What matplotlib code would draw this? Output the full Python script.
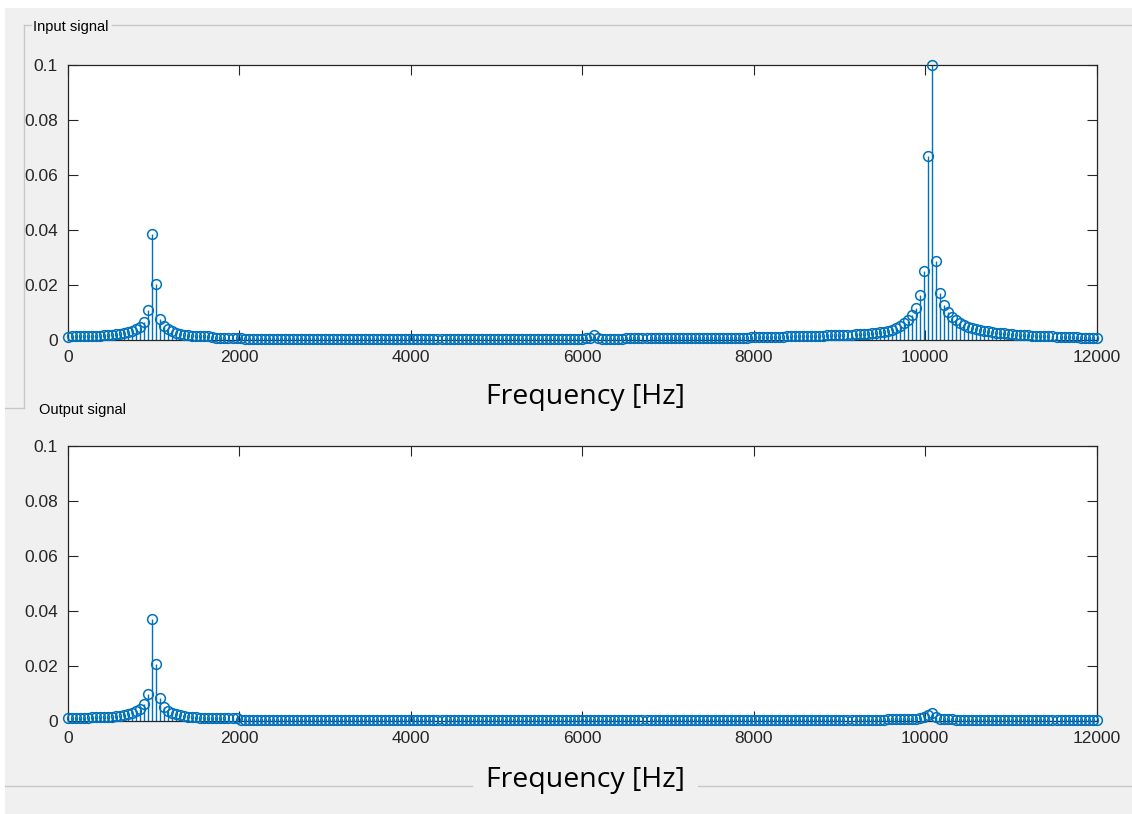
import matplotlib.pyplot as plt
import numpy as np
from matplotlib.lines import Line2D
from matplotlib.patches import Rectangle

# frequency bins (Fs = 24 kHz, N = 512 -> 257 bins from 0 to 12000 Hz)
freq_step = 46.875
n_bins = 257

# magnitudes, in units of 1e-3, 16 bins per row
input_milli = [
    1.2, 1.3, 1.3, 1.4, 1.4, 1.5, 1.5, 1.6, 1.6, 1.7, 1.8, 1.9, 2.1, 2.3, 2.6, 2.9,
    3.3, 3.9, 4.8, 6.5, 11.0, 38.5, 20.5, 7.8, 5.2, 4.0, 3.2, 2.7, 2.3, 2.0, 1.8, 1.6,
    1.5, 1.4, 1.3, 1.3, 1.2, 0.7, 0.7, 0.6, 0.6, 0.6, 0.6, 0.6, 0.5, 0.5, 0.5, 0.5,
    0.5, 0.5, 0.5, 0.5, 0.5, 0.5, 0.5, 0.5, 0.5, 0.5, 0.5, 0.5, 0.5, 0.5, 0.5, 0.5,
    0.5, 0.5, 0.5, 0.5, 0.5, 0.5, 0.5, 0.5, 0.5, 0.5, 0.5, 0.5, 0.5, 0.5, 0.5, 0.5,
    0.5, 0.5, 0.5, 0.5, 0.5, 0.5, 0.5, 0.5, 0.5, 0.5, 0.5, 0.5, 0.5, 0.5, 0.5, 0.5,
    0.5, 0.5, 0.5, 0.5, 0.5, 0.5, 0.5, 0.5, 0.5, 0.5, 0.5, 0.5, 0.5, 0.5, 0.5, 0.5,
    0.5, 0.5, 0.5, 0.5, 0.5, 0.5, 0.5, 0.5, 0.5, 0.5, 0.5, 0.5, 0.5, 0.5, 0.5, 0.5,
    0.5, 0.6, 0.9, 1.8, 0.6, 0.3, 0.3, 0.3, 0.3, 0.3, 0.4, 0.7, 0.7, 0.7, 0.7, 0.7,
    0.7, 0.7, 0.7, 0.7, 0.7, 0.7, 0.7, 0.8, 0.8, 0.8, 0.8, 0.8, 0.8, 0.8, 0.8, 0.8,
    0.8, 0.8, 0.8, 0.8, 0.9, 0.9, 0.9, 0.9, 0.9, 0.9, 1.0, 1.0, 1.0, 1.0, 1.1, 1.1,
    1.1, 1.2, 1.2, 1.3, 1.3, 1.3, 1.4, 1.4, 1.5, 1.5, 1.5, 1.6, 1.6, 1.7, 1.7, 1.8,
    1.8, 1.9, 1.9, 2.0, 2.1, 2.1, 2.2, 2.3, 2.4, 2.6, 2.8, 3.0, 3.3, 3.8, 4.5, 5.2,
    6.1, 7.3, 9.1, 11.8, 16.4, 25.2, 67.0, 100.0, 28.8, 17.2, 12.7, 10.3, 8.4, 7.2, 6.2, 5.5,
    4.9, 4.4, 4.0, 3.7, 3.4, 3.1, 2.9, 2.7, 2.5, 2.4, 2.2, 2.1, 2.0, 1.9, 1.8, 1.7,
    1.5, 1.5, 1.4, 1.4, 1.3, 1.3, 1.2, 1.2, 1.1, 1.1, 1.0, 1.0, 0.9, 0.9, 0.8, 0.8,
    0.7,
]

output_milli = [
    1.0, 1.0, 1.1, 1.1, 1.2, 1.2, 1.3, 1.3, 1.4, 1.4, 1.5, 1.6, 1.8, 2.0, 2.3, 2.6,
    3.0, 3.6, 4.5, 6.2, 9.8, 37.0, 20.7, 8.5, 5.0, 3.8, 3.0, 2.5, 2.1, 1.8, 1.6, 1.4,
    1.3, 1.2, 1.2, 1.1, 1.1, 1.0, 1.0, 1.0, 1.0, 1.0, 1.0, 0.5, 0.5, 0.5, 0.5, 0.5,
    0.5, 0.5, 0.5, 0.5, 0.5, 0.5, 0.5, 0.5, 0.5, 0.5, 0.5, 0.5, 0.5, 0.5, 0.5, 0.5,
    0.5, 0.5, 0.5, 0.5, 0.5, 0.5, 0.5, 0.5, 0.5, 0.5, 0.5, 0.5, 0.5, 0.5, 0.5, 0.5,
    0.5, 0.5, 0.5, 0.5, 0.5, 0.5, 0.5, 0.5, 0.5, 0.5, 0.5, 0.5, 0.5, 0.5, 0.5, 0.5,
    0.5, 0.5, 0.5, 0.5, 0.5, 0.5, 0.5, 0.5, 0.5, 0.5, 0.5, 0.5, 0.5, 0.5, 0.5, 0.5,
    0.5, 0.5, 0.5, 0.5, 0.5, 0.5, 0.5, 0.5, 0.5, 0.5, 0.5, 0.5, 0.5, 0.5, 0.5, 0.5,
    0.5, 0.5, 0.5, 0.5, 0.5, 0.5, 0.5, 0.5, 0.5, 0.5, 0.5, 0.5, 0.5, 0.5, 0.5, 0.5,
    0.5, 0.5, 0.5, 0.5, 0.5, 0.5, 0.5, 0.5, 0.5, 0.5, 0.5, 0.5, 0.5, 0.5, 0.5, 0.5,
    0.5, 0.5, 0.5, 0.5, 0.5, 0.5, 0.5, 0.5, 0.5, 0.5, 0.5, 0.5, 0.5, 0.5, 0.5, 0.5,
    0.5, 0.5, 0.5, 0.5, 0.5, 0.5, 0.5, 0.5, 0.5, 0.5, 0.5, 0.5, 0.5, 0.5, 0.5, 0.5,
    0.5, 0.5, 0.5, 0.5, 0.5, 0.5, 0.5, 0.5, 0.5, 0.5, 0.5, 0.5, 0.6, 0.6, 0.6, 0.6,
    0.6, 0.6, 0.7, 0.8, 1.1, 1.6, 2.2, 3.0, 1.4, 0.9, 0.7, 0.6, 0.6, 0.5, 0.5, 0.5,
    0.5, 0.5, 0.5, 0.5, 0.5, 0.5, 0.5, 0.5, 0.5, 0.5, 0.5, 0.5, 0.5, 0.5, 0.5, 0.5,
    0.5, 0.5, 0.5, 0.5, 0.5, 0.5, 0.5, 0.5, 0.5, 0.5, 0.5, 0.5, 0.5, 0.5, 0.5, 0.5,
    0.5,
]

x_ticks = [0, 2000, 4000, 6000, 8000, 10000, 12000]
y_ticks = [0, 0.02, 0.04, 0.06, 0.08, 0.1]
y_ticklabels = ['0', '0.02', '0.04', '0.06', '0.08', '0.1']

freq = np.arange(n_bins) * freq_step
mag_in = np.array(input_milli) / 1000.0
mag_out = np.array(output_milli) / 1000.0

W, H = 1132, 814
matlab_blue = '#0072BD'
axis_gray = '#262626'
panel_gray = '#f0f0f0'
edge_gray = '#c8c8c8'

fig = plt.figure(figsize=(W / 100, H / 100), dpi=100, facecolor='white')

# gray window background (screenshot has a thin white margin top/left)
fig.add_artist(Rectangle((5 / W, 0), 1 - 5 / W, 1 - 8 / H, transform=fig.transFigure,
                         facecolor=panel_gray, edgecolor='none', zorder=-10))

def fx(px):
    return px / W

def fy(py):
    return 1 - py / H

def hline(y, x0, x1):
    fig.add_artist(Line2D([fx(x0), fx(x1)], [fy(y), fy(y)], transform=fig.transFigure,
                          color=edge_gray, lw=1))

def vline(x, y0, y1):
    fig.add_artist(Line2D([fx(x), fx(x)], [fy(y0), fy(y1)], transform=fig.transFigure,
                          color=edge_gray, lw=1))

# panel borders
hline(25, 24, 31)
hline(25, 112, W)
vline(24, 25, 408)
hline(408, 5, 24)
hline(786, 5, 472)
hline(786, 698, W)

fig.text(fx(33), fy(27), 'Input signal', fontsize=10.5, family='Liberation Sans',
         color='black', va='center', ha='left')
fig.text(fx(39), fy(410), 'Output signal', fontsize=10.5, family='Liberation Sans',
         color='black', va='center', ha='left')


def draw_panel(top_px, mags, label_y):
    ax = fig.add_axes([fx(67.7), fy(top_px + 275), 1029 / W, 275 / H])
    ax.set_facecolor('white')
    markerline, stemlines, baseline = ax.stem(freq, mags, basefmt=' ')
    markerline.set_markerfacecolor('none')
    markerline.set_markeredgecolor(matlab_blue)
    markerline.set_markersize(7)
    markerline.set_markeredgewidth(1.1)
    markerline.set_clip_on(False)
    markerline.set_zorder(4)
    stemlines.set_color(matlab_blue)
    stemlines.set_linewidth(1.0)
    ax.set_xlim(0, 12000)
    ax.set_ylim(0, 0.1)
    ax.set_xticks(x_ticks)
    ax.set_xticklabels([str(t) for t in x_ticks])
    ax.set_yticks(y_ticks)
    ax.set_yticklabels(y_ticklabels)
    ax.tick_params(direction='in', length=7, width=0.8, colors=axis_gray,
                   top=True, right=True, labelsize=12.5, pad=7)
    for lab in ax.get_xticklabels() + ax.get_yticklabels():
        lab.set_family('Liberation Sans')
    for sp in ax.spines.values():
        sp.set_color(axis_gray)
        sp.set_linewidth(0.9)
    fig.text(fx(585), fy(label_y), 'Frequency [Hz]', fontsize=20.5, family='Open Sans',
             color='black', ha='center', va='center')
    return ax


ax1 = draw_panel(65, mag_in, 397)
ax2 = draw_panel(446, mag_out, 780)

fig.savefig('out.png', dpi=100, facecolor=fig.get_facecolor())
